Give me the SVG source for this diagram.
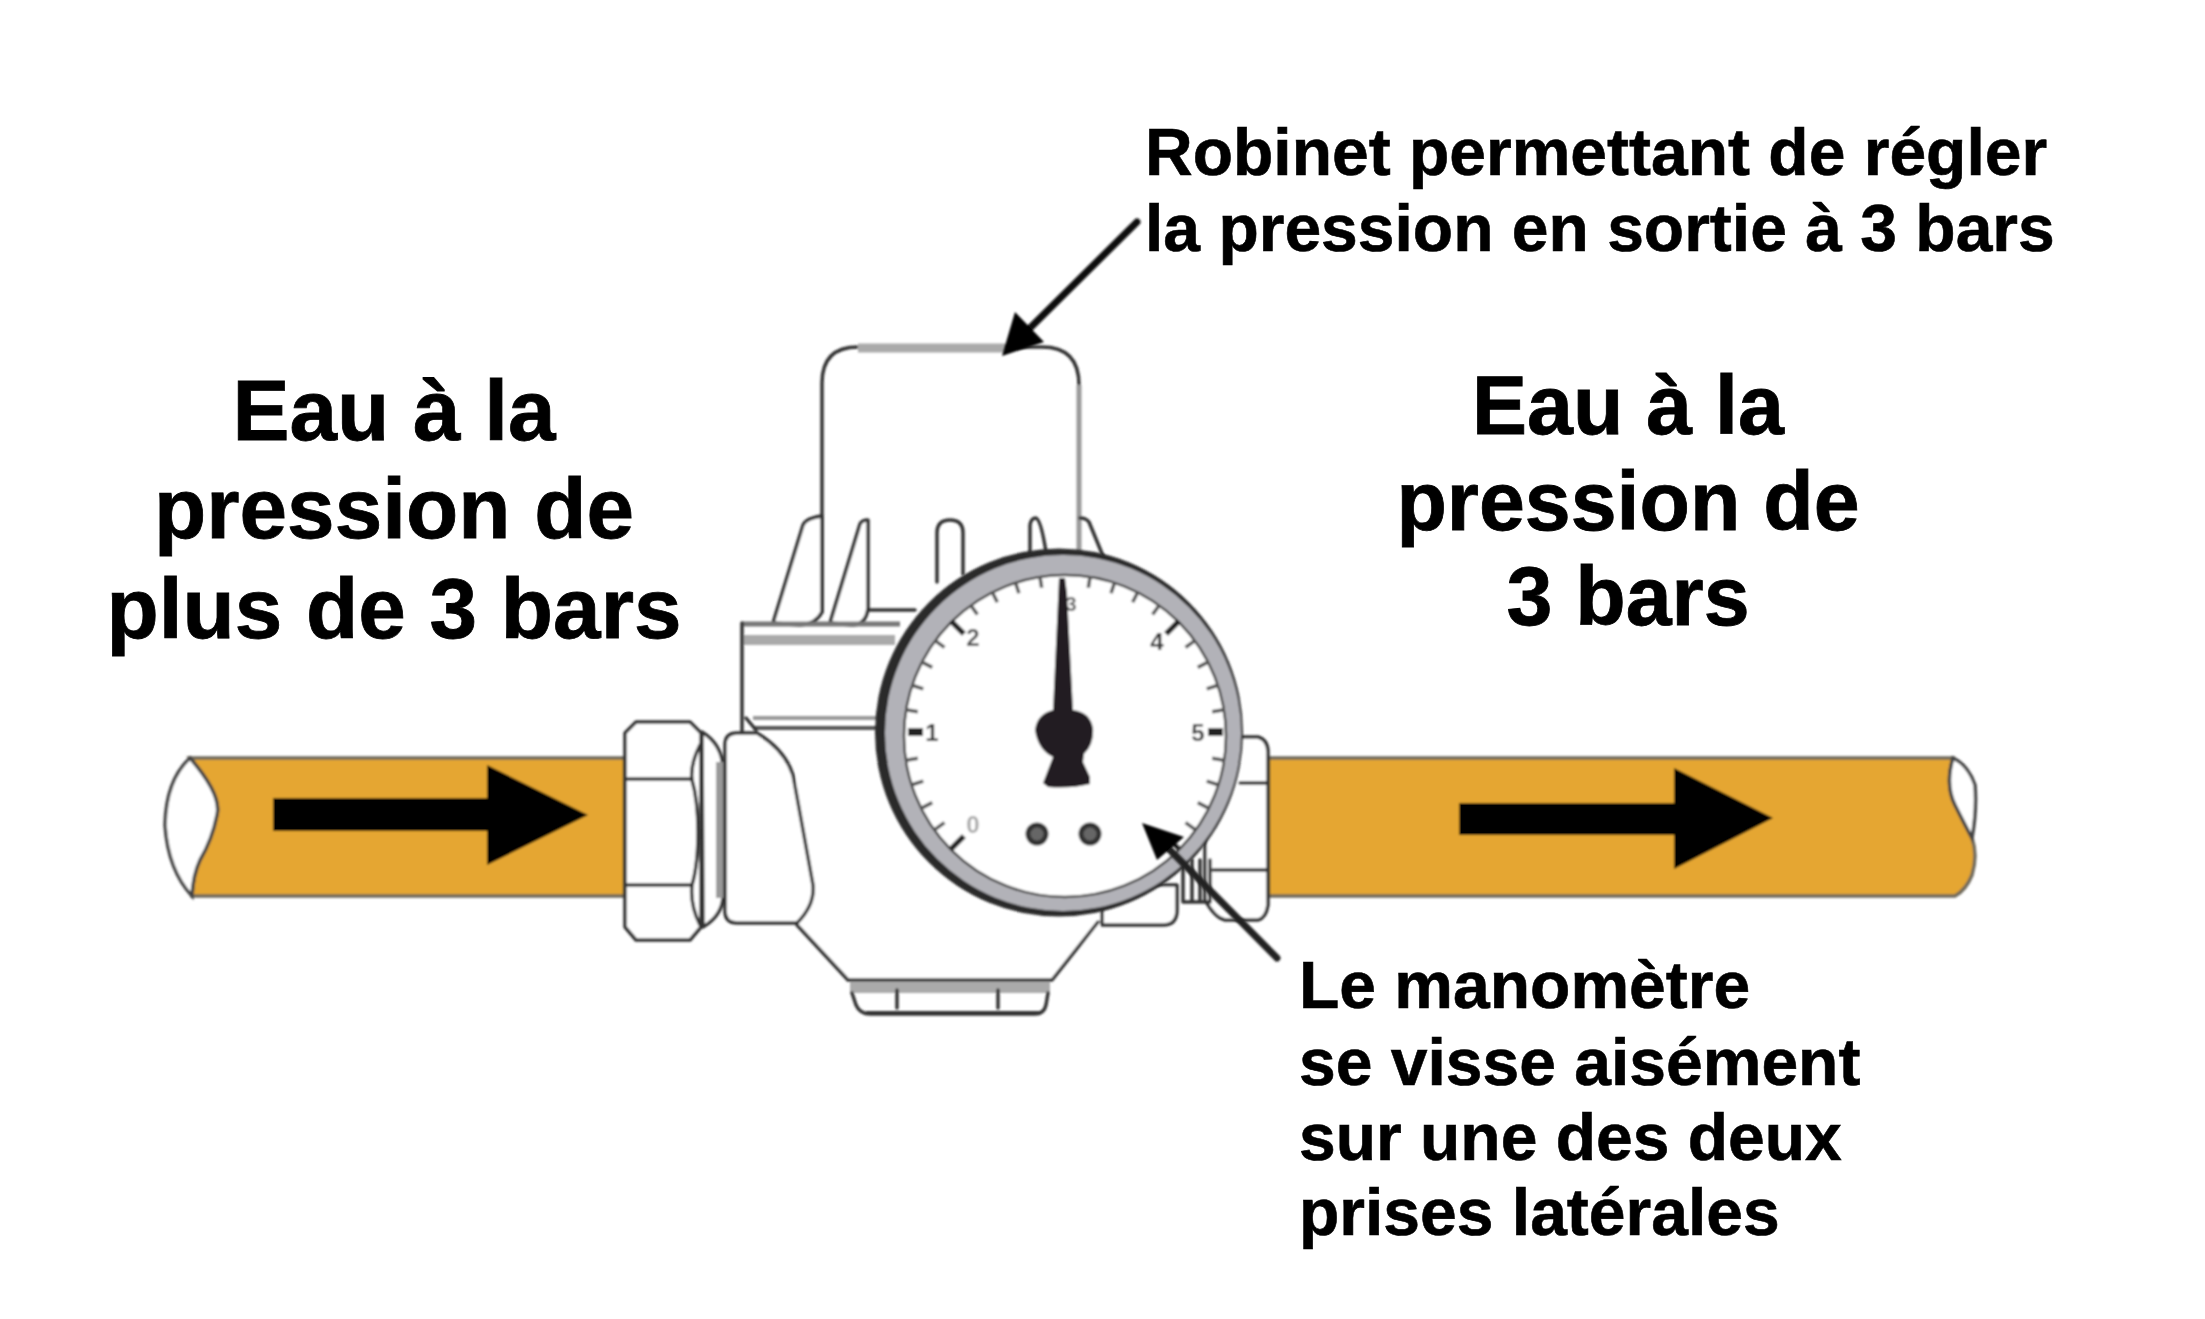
<svg xmlns="http://www.w3.org/2000/svg" width="2205" height="1319" viewBox="0 0 2205 1319">
<style>
.l{fill:none;stroke:#333;stroke-width:3.5;stroke-linecap:round;stroke-linejoin:round}
.w{fill:#fff;stroke:#333;stroke-width:3.5;stroke-linejoin:round}
.pipe{fill:#e5a632;stroke:#6f6a5c;stroke-width:3.5}
.lens{fill:#fff;stroke:#444;stroke-width:3.5}
.big{font:bold 85.5px "Liberation Sans",Arial,sans-serif;fill:#000;stroke:#000;stroke-width:.8;text-anchor:middle}
.bigr{font-size:82.5px}
.mid{font:bold 66px "Liberation Sans",Arial,sans-serif;fill:#000;stroke:#000;stroke-width:.6}
.n{font:bold 24px "Liberation Sans",Arial,sans-serif;fill:#333;text-anchor:middle}
.mi{stroke:#555;stroke-width:3.5}
.ma{stroke:#222;stroke-width:5.5}
</style>
<defs>
<filter id="soft" x="-5%" y="-5%" width="110%" height="110%"><feGaussianBlur stdDeviation="1.1"/></filter>
<line id="mi" class="mi" x1="1065" y1="574" x2="1065" y2="586"/>
<line id="ma" class="ma" x1="1065" y1="574" x2="1065" y2="592"/>
</defs>
<rect width="2205" height="1319" fill="#fff"/>
<g id="pipe-left" filter="url(#soft)">
<path class="pipe" d="M190,758 H628 V896 H192 Q193,875 200,860 Q212,840 217,815 Q222,795 190,758 Z"/>
<path class="lens" d="M190,758 Q222,795 217,815 Q212,840 200,860 Q193,875 192,896 Q168,870 165,825 Q166,780 190,758 Z"/>
<path d="M273,798 H487 V765 L588,815 L487,865 V831 H273 Z" fill="#000"/>
</g>
<g id="pipe-right" filter="url(#soft)">
<path class="pipe" d="M1262,758 H1953 Q1945,785 1955,805 Q1965,825 1972,838 Q1978,855 1972,875 Q1966,890 1955,896 H1262 Z"/>
<path class="lens" d="M1953,758 Q1945,785 1955,805 Q1965,825 1972,838 Q1977,810 1975,785 Q1968,765 1953,758 Z"/>
<path d="M1459,803 H1674 V768 L1773,818 L1674,869 V835 H1459 Z" fill="#000"/>
</g>
<g id="valve" filter="url(#soft)">
<path class="l" d="M822,612 V383 Q822,347 858,347 H1042 Q1079,347 1079,385"/>
<path d="M858,348 H1006" fill="none" stroke="#aaa" stroke-width="9"/>
<path d="M1079,385 V558" fill="none" stroke="#999" stroke-width="5"/>
<path class="w" d="M773,623 L803,525 Q806,518 822,516 V612 Q816,624 800,625 Z"/>
<path class="w" d="M830,623 L860,524 Q862,520 868,520 V608 Q866,625 852,625 Z"/>
<path class="l" d="M937,582 V533 Q937,520 950,520 Q963,520 963,533 V574"/>
<path class="l" d="M1030,556 V525 Q1031,518 1036,518 Q1041,520 1046,552"/>
<path class="l" d="M1080,518 Q1086,518 1089,522 L1103,556"/>
<path class="l" d="M868,610 H915"/>
<path d="M742,624 H900" fill="none" stroke="#777" stroke-width="5"/>
<path d="M742,640 H895" fill="none" stroke="#aaa" stroke-width="10"/>
<path d="M753,718 H885" fill="none" stroke="#999" stroke-width="4"/>
<path d="M753,728 H885" fill="none" stroke="#555" stroke-width="4"/>
<path class="l" d="M742,623 V733 M746,718 L756,730"/>
<path fill="#fff" d="M797,925 L848,980 H1052 L1102,922 V760 H797 Z"/>
<path class="l" d="M797,925 L848,980 H1052 L1098,922"/>
<rect x="850" y="982" width="200" height="11" fill="#aaa"/>
<path class="l" d="M852,993 L856,1005 Q860,1014 870,1014 H1035 Q1044,1014 1046,1005 L1048,993 M897,990 V1008 M998,990 V1008"/>
<path d="M866,1013 H1040" stroke="#333" stroke-width="4" fill="none"/>
<path class="w" d="M1102,925 V885 H1177 V910 Q1177,925 1163,925 Z"/>
<path class="w" d="M702,732 Q723,745 723,770 V895 Q723,915 703,927 Z"/>
<path d="M720,762 V898" stroke="#999" stroke-width="8" fill="none"/>
<path class="w" d="M725,745 Q725,733 737,733 H757 Q785,750 793,775 L813,885 Q815,905 797,923 H737 Q725,923 725,911 Z"/>
<path class="w" d="M636,722 H690 L701,733 V927 L690,940 H636 L625,927 V733 Z"/>
<path class="l" d="M627,779 H692 M627,885 H692"/>
<path class="l" d="M700,745 Q690,765 692,780 Q698,800 698,832 Q698,865 692,885 Q690,905 700,925"/>
<path class="w" d="M1240,737 H1258 Q1268,740 1268,752 V905 Q1266,918 1258,920 H1225 Q1215,918 1205,900 V760 Q1220,740 1240,737 Z"/>
<path class="l" d="M1240,783 H1266 M1213,870 H1266"/>
<path class="l" d="M1183,865 V902 M1192,860 V902 M1200,860 V902 M1210,860 V902 M1183,902 H1210"/>
</g>
<g id="gauge" filter="url(#soft)">
<circle cx="1059" cy="732.5" r="184" fill="#2a2a2a"/>
<circle cx="1063" cy="733" r="178" fill="#b2b2b8"/>
<circle cx="1065" cy="736" r="161" fill="#fff" stroke="#444" stroke-width="2.5"/>
<g id="ticks">
<use href="#ma" transform="rotate(-135 1065 735)"/><use href="#mi" transform="rotate(-126 1065 735)"/><use href="#mi" transform="rotate(-117 1065 735)"/><use href="#mi" transform="rotate(-108 1065 735)"/><use href="#mi" transform="rotate(-99 1065 735)"/>
<use href="#mi" transform="rotate(-81 1065 735)"/><use href="#mi" transform="rotate(-72 1065 735)"/><use href="#mi" transform="rotate(-63 1065 735)"/><use href="#mi" transform="rotate(-54 1065 735)"/>
<use href="#ma" transform="rotate(-45 1065 735)"/><use href="#mi" transform="rotate(-36 1065 735)"/><use href="#mi" transform="rotate(-27 1065 735)"/><use href="#mi" transform="rotate(-18 1065 735)"/><use href="#mi" transform="rotate(-9 1065 735)"/>
<use href="#mi" transform="rotate(9 1065 735)"/><use href="#mi" transform="rotate(18 1065 735)"/><use href="#mi" transform="rotate(27 1065 735)"/><use href="#mi" transform="rotate(36 1065 735)"/>
<use href="#ma" transform="rotate(45 1065 735)"/><use href="#mi" transform="rotate(54 1065 735)"/><use href="#mi" transform="rotate(63 1065 735)"/><use href="#mi" transform="rotate(72 1065 735)"/><use href="#mi" transform="rotate(81 1065 735)"/>
<use href="#mi" transform="rotate(99 1065 735)"/><use href="#mi" transform="rotate(108 1065 735)"/><use href="#mi" transform="rotate(117 1065 735)"/><use href="#mi" transform="rotate(126 1065 735)"/>
<use href="#ma" transform="rotate(135 1065 735)"/>
<rect x="908" y="728" width="15" height="8" fill="#222"/>
<rect x="1208" y="728" width="15" height="8" fill="#222"/>
</g>
<text class="n" x="973" y="833" style="fill:#aaa">0</text>
<text class="n" x="932" y="741">1</text>
<text class="n" x="973" y="646" style="fill:#555">2</text>
<text class="n" x="1071" y="611" style="fill:#666;font-size:20px">3</text>
<text class="n" x="1157" y="650">4</text>
<text class="n" x="1198" y="741" style="fill:#444">5</text>
<path d="M1059,578 H1065 L1067,593 L1073,710 Q1090,712 1093,728 Q1094,745 1084,754 L1083,762 L1090,777 V784 Q1070,789 1048,787 L1043,783 L1048,770 L1053,757 Q1038,750 1035,730 Q1037,714 1053,710 Z" fill="#231f20"/>
<circle cx="1037" cy="834" r="9" fill="#666" stroke="#333" stroke-width="5"/>
<circle cx="1090" cy="834" r="9" fill="#666" stroke="#333" stroke-width="5"/>
</g>
<g id="connectors" filter="url(#soft)">
<path d="M1137,222 L1025,333" stroke="#111" stroke-width="7" fill="none" stroke-linecap="round"/>
<path d="M1002,356 L1015,312 L1044,342 Z" fill="#000"/>
<path d="M1277,958 L1165,845" stroke="#222" stroke-width="7" fill="none" stroke-linecap="round"/>
<path d="M1142,823 L1184,837 L1157,860 Z" fill="#000"/>
</g>
<g id="labels">
<text class="big" x="394" y="440">Eau à la</text>
<text class="big" x="394" y="538">pression de</text>
<text class="big" x="394" y="638">plus de 3 bars</text>
<text class="big bigr" x="1628" y="434">Eau à la</text>
<text class="big bigr" x="1628" y="530">pression de</text>
<text class="big bigr" x="1628" y="625">3 bars</text>
<text class="mid" x="1145" y="175">Robinet permettant de régler</text>
<text class="mid" x="1145" y="251">la pression en sortie à 3 bars</text>
<text class="mid" x="1299" y="1008">Le manomètre</text>
<text class="mid" x="1299" y="1085">se visse aisément</text>
<text class="mid" x="1299" y="1160">sur une des deux</text>
<text class="mid" x="1299" y="1235">prises latérales</text>
</g>
</svg>
